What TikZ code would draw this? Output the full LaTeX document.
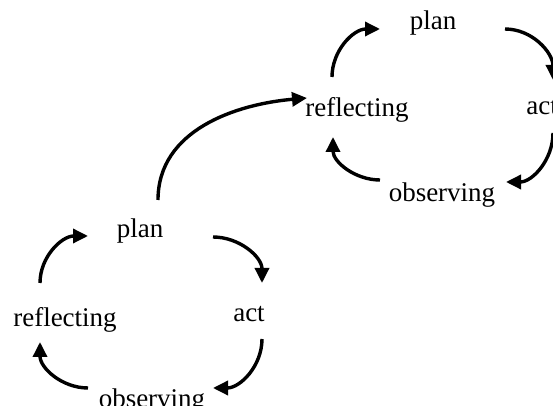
\documentclass[tikz,border=0pt]{standalone}
\usepackage{fontspec}
\setmainfont{Liberation Serif}
\usetikzlibrary{arrows.meta}

\begin{document}
\begin{tikzpicture}[
    x=0.5pt, y=-0.5pt,
    >={Triangle[length=7.5pt, width=7pt]},
    stage/.style={inner sep=0pt, anchor=base},
    cycle/.style={->, line width=1.7pt},
    font=\fontsize{13.5pt}{16pt}\selectfont
]
\useasboundingbox (0,0) rectangle (553,406);

%-------------------------------------------------
% First cycle
%-------------------------------------------------
\node[stage] (plan)    at (140,238) {plan};
\node[stage] (act)     at (249,322) {act};
\node[stage] (observe) at (152,408) {observing};
\node[stage] (reflect) at (65,327)  {reflecting};

\draw[cycle] ([shift={(-25,-44)}]reflect.base) to[out=90,in=180] ([shift={(-52,-2)}]plan.base);
\draw[cycle] ([shift={(73,-1)}]plan.base)      to[out=0,in=90]   ([shift={(13,-39)}]act.base);
\draw[cycle] ([shift={(13,17)}]act.base)       to[out=-90,in=0]  ([shift={(61,-20)}]observe.base);
\draw[cycle] ([shift={(-64,-20)}]observe.base) to[out=180,in=-90] ([shift={(-25,15)}]reflect.base);

%-------------------------------------------------
% Second cycle
%-------------------------------------------------
\node[stage] (plan2)    at (433,30)  {plan};
\node[stage, anchor=base west] (act2) at (526,115) {act};
\node[stage] (observe2) at (442,202) {observing};
\node[stage] (reflect2) at (357,117) {reflecting};

\draw[cycle] ([shift={(-25,-40)}]reflect2.base) to[out=90,in=180] ([shift={(-53,-1)}]plan2.base);
\draw[cycle] ([shift={(72,-1)}]plan2.base)      to[out=0,in=90]   ([shift={(27,-35)}]act2.base west);
\draw[cycle] ([shift={(27,18)}]act2.base west)  to[out=-90,in=0]  ([shift={(64,-20)}]observe2.base);
\draw[cycle] ([shift={(-62,-22)}]observe2.base) to[out=180,in=-90] ([shift={(-24,20)}]reflect2.base);

%-------------------------------------------------
% Link between the cycles
%-------------------------------------------------
\draw[cycle] ([shift={(18,-38)}]plan.base) to[out=90,in=185] ([shift={(-50,-19)}]reflect2.base);

\end{tikzpicture}
\end{document}
